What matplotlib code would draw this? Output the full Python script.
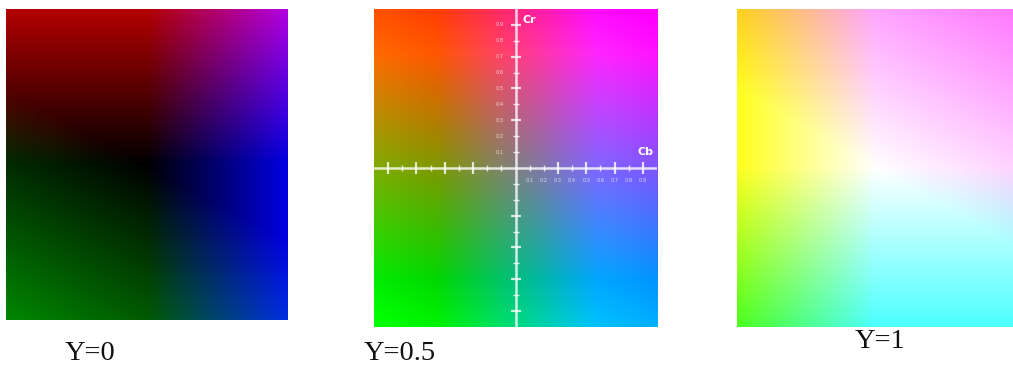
#!/usr/bin/env python3
# -*- coding: utf-8 -*-
import numpy as np
from matplotlib import pyplot as plt

plt.rcParams['font.family'] = ['Liberation Serif', 'DejaVu Serif']

# 三个亮度平面
y_levels = [0.0, 0.5, 1.0]
panel_labels = ['Y=0', 'Y=0.5', 'Y=1']

# 中间图上的坐标轴刻度
major_ticks = [-0.9, -0.7, -0.5, -0.3, 0.3, 0.5, 0.7, 0.9]
minor_ticks = [-0.8, -0.6, -0.4, -0.2, -0.1, 0.1, 0.2, 0.4, 0.6, 0.8]
tick_labels = ['0.1', '0.2', '0.3', '0.4', '0.5', '0.6', '0.7', '0.8', '0.9']
tick_label_pos = [0.1, 0.2, 0.3, 0.4, 0.5, 0.6, 0.7, 0.8, 0.9]

# Cb / Cr 取值范围
cb = np.linspace(-0.5, 0.5, 300)
cr = np.linspace(0.5, -0.5, 300)


def ycbcr_plane(y):
    # YCbCr -> RGB (全范围)
    CB, CR = np.meshgrid(cb, cr)
    r = y + 1.402 * CR
    g = y - 0.344136 * CB - 0.714136 * CR
    b = y + 1.772 * CB
    return np.clip(np.dstack([r, g, b]), 0, 1)


fig = plt.figure(figsize=(10.13, 3.66), dpi=100)

# 位置: [左, 下, 宽, 高]
rects = [[0.0059, 0.1257, 0.2774, 0.8497],
         [0.3692, 0.1066, 0.2794, 0.8689],
         [0.7275, 0.1066, 0.2725, 0.8689]]
label_xy = [(0.0888, 0.0355), (0.3949, 0.0355), (0.8687, 0.0656)]

axes = []
for rect, y in zip(rects, y_levels):
    ax = fig.add_axes(rect)
    ax.imshow(ycbcr_plane(y), extent=[-1, 1, -1, 1], aspect='auto',
              interpolation='bilinear')
    ax.set_xlim(-1, 1)
    ax.set_ylim(-1, 1)
    ax.axis('off')
    axes.append(ax)

for (x, y), text in zip(label_xy, panel_labels):
    fig.text(x, y, text, ha='center', va='center', fontsize=20.5, color='#111111')

# 中间图的 Cb / Cr 坐标轴
ax = axes[1]
axis_col = (1, 1, 1, 0.8)
ax.axhline(0, color=axis_col, lw=1.8)
ax.axvline(0, color=axis_col, lw=1.8)

zeros_major = np.zeros(len(major_ticks))
zeros_minor = np.zeros(len(minor_ticks))
ax.plot(major_ticks, zeros_major, ls='none', marker='|', ms=8, mew=1.6, color=axis_col)
ax.plot(minor_ticks, zeros_minor, ls='none', marker='|', ms=4.5, mew=1.0, color=axis_col)
ax.plot(zeros_major, major_ticks, ls='none', marker='_', ms=7, mew=1.6, color=axis_col)
ax.plot(zeros_minor, minor_ticks, ls='none', marker='_', ms=4, mew=1.0, color=axis_col)

for pos, lab in zip(tick_label_pos, tick_labels):
    ax.text(-0.11, pos, lab, ha='center', va='center', fontsize=3.6,
            color=(1, 1, 1, 0.75), family='DejaVu Sans')
    ax.text(pos, -0.08, lab, ha='center', va='center', fontsize=3.6,
            color=(1, 1, 1, 0.75), family='DejaVu Sans')

ax.text(0.1, 0.93, 'Cr', ha='center', va='center', fontsize=8,
        fontweight='bold', color='white', family='DejaVu Sans')
ax.text(0.92, 0.1, 'Cb', ha='center', va='center', fontsize=8,
        fontweight='bold', color='white', family='DejaVu Sans')

fig.savefig('out.png', dpi=100)
